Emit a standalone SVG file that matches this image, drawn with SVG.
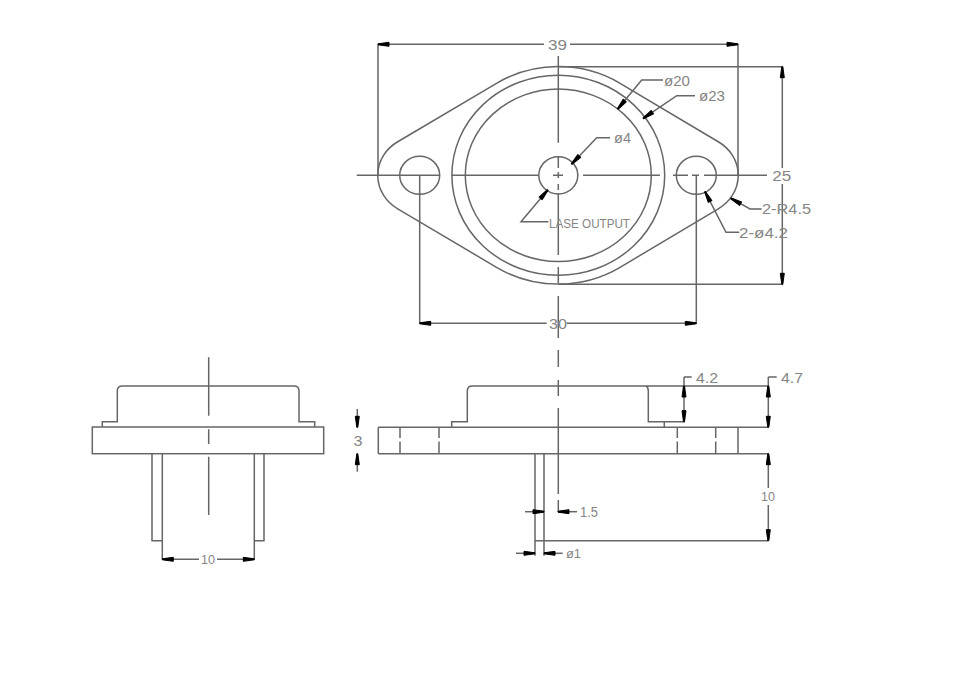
<svg xmlns="http://www.w3.org/2000/svg" width="969" height="694" viewBox="0 0 969 694">
<style>
.l{fill:none;stroke:#666;stroke-width:1.5}
.d{fill:none;stroke:#666;stroke-width:1.5;marker-end:url(#a)}
text{font-family:"Liberation Sans",Arial,sans-serif;font-size:14px;fill:#858585;dominant-baseline:central}
.m{text-anchor:middle}
.s{font-size:12px}
</style>
<defs>
<marker id="a" markerUnits="userSpaceOnUse" markerWidth="13" markerHeight="8" refX="11" refY="4" orient="auto" overflow="visible">
<path d="M0 2L11 3.5V4.5L0 6Z" fill="#000" stroke="#000" stroke-width="1" stroke-linejoin="round"/>
</marker>
</defs>
<rect width="969" height="694" fill="#fff"/>
<g id="top-view">
<path class="l" d="M496.5 83.3A115.9 108.8 0 0 1 620.1 83.3L718.7 142A42 39.4 0 0 1 718.7 208.6L620.1 267.3A115.9 108.8 0 0 1 496.5 267.3L397.3 208.6A42 39.4 0 0 1 397.3 142Z"/>
<ellipse class="l" cx="558.3" cy="175.3" rx="106.4" ry="100"/>
<ellipse class="l" cx="558.3" cy="175.3" rx="93" ry="86.2"/>
<ellipse class="l" cx="558.3" cy="175.3" rx="19.5" ry="18.6"/>
<ellipse class="l" cx="419.7" cy="175.3" rx="20" ry="19"/>
<ellipse class="l" cx="696.3" cy="175.3" rx="20" ry="19"/>
</g>
<g id="side-view">
<path class="l" d="M378.3 427.3H768.3M378.3 453.7H768.3M378.3 427.3V453.7M738 427.3V453.7"/>
<path class="l" d="M400 427.3V438M400 441.5V453.7M439 427.3V438M439 441.5V453.7M677.3 427.3V438M677.3 441.5V453.7M715.7 427.3V438M715.7 441.5V453.7"/>
<path class="l" d="M451.7 427.3V421.7H467.3V391Q467.3 386 472.3 386H646Q648.3 387 648.3 391V421.7H685M664.3 421.7V427.3M646 386H768.3"/>
<path class="l" d="M535 453.7V555.7M544 453.7V555.7M535 540.7H768.3"/>
</g>
<g id="front-view">
<rect class="l" x="92.3" y="427" width="231.4" height="26.7"/>
<path class="l" d="M102.3 427V421.7H117.3V391Q117.3 386 122.3 386H294Q299 386 299 391V421.7H314.7V427"/>
<path class="l" d="M152 453.7V540.7H162.3M162.3 453.7V559.3M254.3 453.7V559.3M254.3 540.7H264V453.7"/>
</g>
<g id="centerlines">
<path class="l" d="M356.7 175.3H440M451.7 175.3H538M553 175.3H563M583 175.3H660M673 175.3H688M692 175.3H699M704 175.3H767"/>
<path class="l" d="M558.3 56V142.7M558.3 156V168M558.3 172V178M558.3 184V190M558.3 193V255M558.3 267V283M558.3 296V338M558.3 350V367M558.3 380V396M558.3 408V494M558.3 500V512"/>
<path class="l" d="M208.7 357.3V415.7M208.7 429.3V444M208.7 456.7V515"/>
</g>
<g id="connectors">
<path class="l" d="M378 44.3V175.3M738 44.3V175.3M558.3 66.7H783M558.3 284.3H783M419.7 175.3V323.3M696.3 175.3V323.3"/>
<path class="d" d="M544 44.3H378"/><path class="d" d="M570 44.3H738"/>
<path class="d" d="M782.3 168V66.7"/><path class="d" d="M782.3 184V284.3"/>
<path class="d" d="M546.7 323.3H419.7"/><path class="d" d="M566.7 323.3H696.3"/>
<path class="d" d="M663 80H641.7L617.7 109"/>
<path class="d" d="M695 95.7H676.7L643.3 118.3"/>
<path class="d" d="M610 137.7H596.7L571.7 164"/>
<path class="d" d="M548.3 221.7H521L547.7 190"/>
<path class="d" d="M761.7 209H750L731 198.3"/>
<path class="d" d="M739.3 232.3H726L705 191.7"/>
<path class="l" d="M684 377H691.7M684 377V386M768.3 377H776.7M768.3 377V386"/>
<path class="d" d="M684 404V386"/><path class="d" d="M684 404V421.7"/>
<path class="d" d="M768.3 406V386"/><path class="d" d="M768.3 406V427.3"/>
<path class="d" d="M768.3 488V453.7"/><path class="d" d="M768.3 505V540.7"/>
<path class="d" d="M357.3 409V427.3"/><path class="d" d="M357.3 471.7V453.7"/>
<path class="d" d="M525 511.7H544"/><path class="d" d="M577 511.7H558"/>
<path class="d" d="M516 553.3H535"/><path class="d" d="M562.7 553.3H544"/>
<path class="d" d="M199 559.3H162.3"/><path class="d" d="M217 559.3H254.3"/>
</g>
<g id="labels">
<text class="m" x="557.5" y="44.5" textLength="19" lengthAdjust="spacingAndGlyphs">39</text>
<text class="m" x="781.7" y="175.7" textLength="19" lengthAdjust="spacingAndGlyphs">25</text>
<text class="m" x="558" y="323.5" textLength="18" lengthAdjust="spacingAndGlyphs">30</text>
<text x="664" y="81" textLength="26" lengthAdjust="spacingAndGlyphs">ø20</text>
<text x="699" y="96" textLength="26" lengthAdjust="spacingAndGlyphs">ø23</text>
<text x="614" y="138" textLength="17" lengthAdjust="spacingAndGlyphs">ø4</text>
<text class="s" x="549" y="224" textLength="81" lengthAdjust="spacingAndGlyphs">LASE OUTPUT</text>
<text x="762" y="208.5" textLength="49" lengthAdjust="spacingAndGlyphs">2-R4.5</text>
<text x="739" y="233" textLength="49" lengthAdjust="spacingAndGlyphs">2-ø4.2</text>
<text x="696" y="378" textLength="22" lengthAdjust="spacingAndGlyphs">4.2</text>
<text x="781" y="378" textLength="22" lengthAdjust="spacingAndGlyphs">4.7</text>
<text class="m" x="358" y="440.5" textLength="9" lengthAdjust="spacingAndGlyphs">3</text>
<text class="m s" x="768" y="496.5" textLength="14" lengthAdjust="spacingAndGlyphs">10</text>
<text x="580" y="512" textLength="18" lengthAdjust="spacingAndGlyphs">1.5</text>
<text class="s" x="566" y="553.5" textLength="15" lengthAdjust="spacingAndGlyphs">ø1</text>
<text class="m s" x="208" y="559.5" textLength="14" lengthAdjust="spacingAndGlyphs">10</text>
</g>
</svg>
